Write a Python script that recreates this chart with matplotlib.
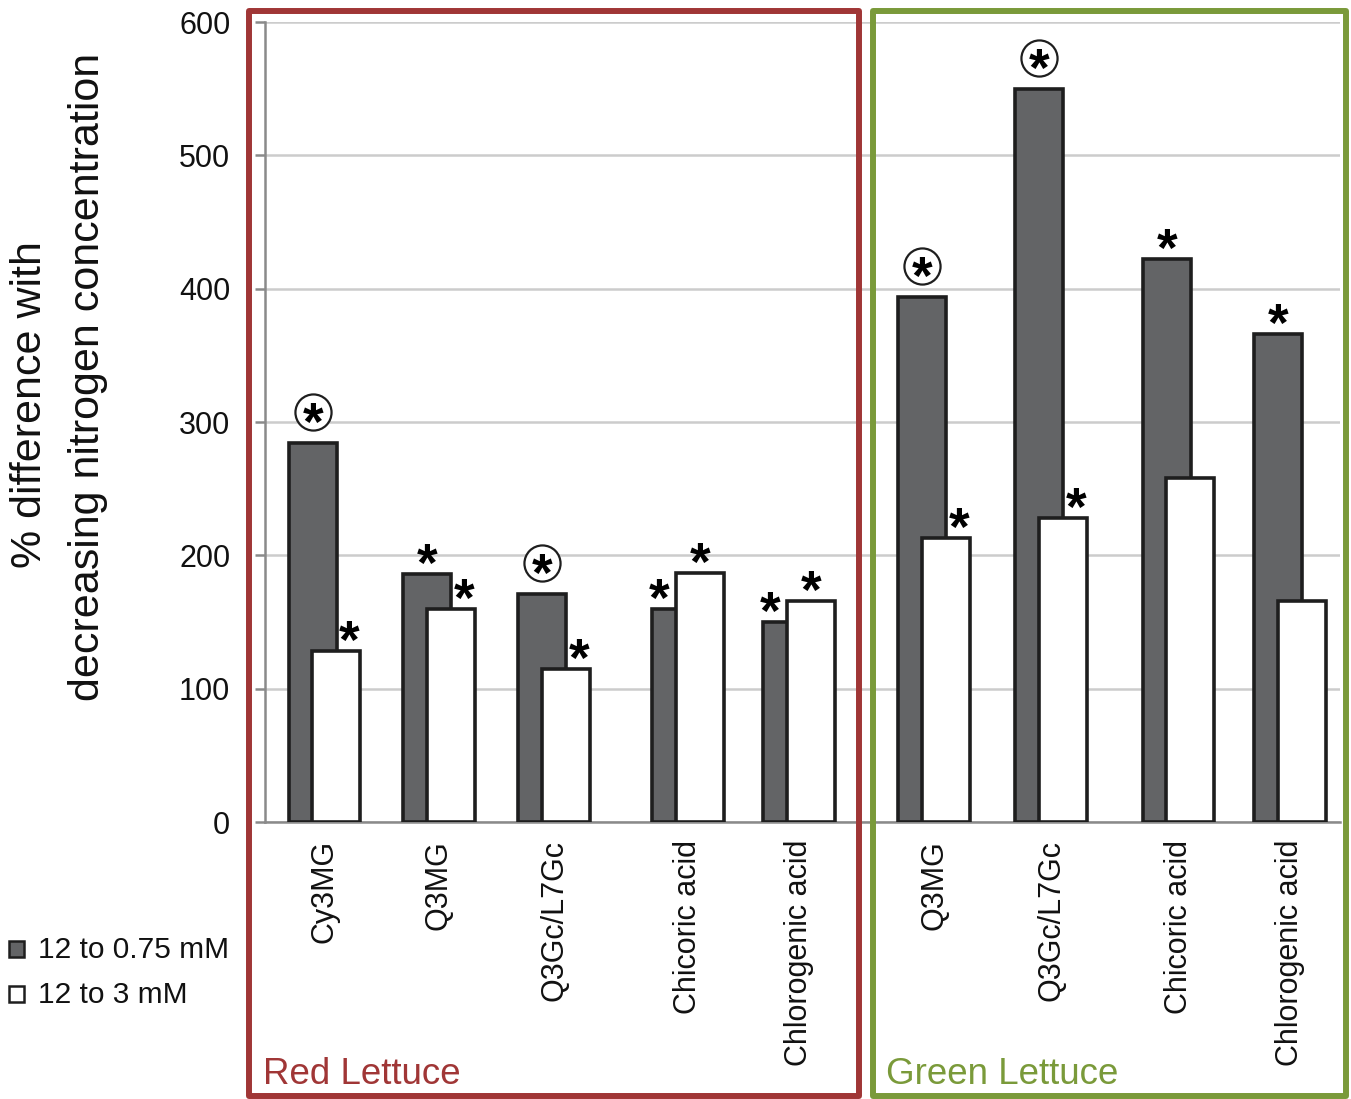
import matplotlib
matplotlib.use("Agg")
import matplotlib.pyplot as plt
from matplotlib.patches import Rectangle

plt.rcParams['font.family'] = ['Liberation Sans', 'DejaVu Sans']

# ---------------- data ----------------
categories = ["Cy3MG", "Q3MG", "Q3Gc/L7Gc", "Chicoric acid", "Chlorogenic acid",
              "Q3MG", "Q3Gc/L7Gc", "Chicoric acid", "Chlorogenic acid"]
vals_075 = [284, 186, 171, 160, 150, 394, 550, 422, 366]   # 12 to 0.75 mM
vals_3 = [128, 160, 115, 187, 166, 213, 228, 258, 166]     # 12 to 3 mM
sig_075 = ["circle", "star", "circle", "star", "star", "circle", "circle", "star", "star"]
sig_3 = ["star", "star", "star", "star", "star", "star", "star", "", ""]
yticks = [0, 100, 200, 300, 400, 500, 600]
legend_labels = ["12 to 0.75 mM", "12 to 3 mM"]
group_labels = ["Red Lettuce", "Green Lettuce"]

# ---------------- layout ----------------
W, H = 1351, 1099
group_pos = [59.5, 174, 289, 423, 534, 669, 786, 913.5, 1025]
bar_w = 48
off = 11.75
dark = "#636466"
edge = "#1e1e1e"
red = "#A03636"
green = "#7A9A3A"

fig = plt.figure(figsize=(W / 100, H / 100), dpi=100)
ax = fig.add_axes([265 / W, 1 - 822 / H, 1075 / W, 800 / H])
ax.set_xlim(0, 1075)
ax.set_ylim(0, 600)

xd = [p - off for p in group_pos]
xw = [p + off for p in group_pos]
ax.bar(xd, vals_075, width=bar_w, color=dark, edgecolor=edge, linewidth=2.6, zorder=3)
ax.bar(xw, vals_3, width=bar_w, color="white", edgecolor=edge, linewidth=2.6, zorder=4)

# grid & spines
ax.set_yticks(yticks)
ax.yaxis.grid(True, color="#CCCCCC", linewidth=1.8, zorder=0)
ax.set_axisbelow(True)
for s in ["top", "right"]:
    ax.spines[s].set_visible(False)
ax.spines["left"].set_color("#8A8A8A")
ax.spines["left"].set_linewidth(1.8)
ax.spines["bottom"].set_color("#8A8A8A")
ax.spines["bottom"].set_linewidth(1.8)
ax.tick_params(axis="y", length=7, width=1.8, color="#8A8A8A", labelsize=22, pad=18,
               labelcolor="#111111")
ax.set_xticks(group_pos)
ax.set_xticklabels(categories, rotation=90, fontsize=22, va="top", ha="center")
ax.tick_params(axis="x", length=0, pad=13, labelcolor="#111111")

# significance markers
def star(x, y, dy):
    ax.annotate("*", xy=(x, y), xytext=(0, dy), textcoords="offset points",
                ha="center", va="center", fontsize=38, fontweight="bold", zorder=6,
                annotation_clip=False)

def circled(x, y):
    ax.plot([x], [y], marker="o", markersize=26, markerfacecolor="white",
            markeredgecolor=edge, markeredgewidth=1.6, zorder=5, clip_on=False)
    star(x, y, -10)

for i in range(len(categories)):
    d, w = vals_075[i], vals_3[i]
    if sig_075[i] == "circle":
        y_c = d + 31 * 600 / 800
        circled(xd[i], y_c)
    elif sig_075[i] == "star":
        x = xd[i] if d >= w else xd[i] - 1.5 * off
        star(x, d, 5)
    if sig_3[i] == "star":
        x = xw[i] + 1.1 * off if d >= w else xw[i]
        star(x, w, 5)

# y label (two lines)
fig.text(30 / W, 1 - 405 / H, "% difference with", rotation=90, ha="center", va="center",
         fontsize=31, color="#111111")
fig.text(88 / W, 1 - 377 / H, "decreasing nitrogen concentration", rotation=90,
         ha="center", va="center", fontsize=31, color="#111111")

# group boxes
fig.add_artist(Rectangle((249 / W, 1 - 1096 / H), (859 - 249) / W, (1096 - 11) / H,
                         transform=fig.transFigure, fill=False, edgecolor=red,
                         linewidth=4.3, joinstyle="round", zorder=10))
fig.add_artist(Rectangle((872.5 / W, 1 - 1096 / H), (1346 - 872.5) / W, (1096 - 10.5) / H,
                         transform=fig.transFigure, fill=False, edgecolor=green,
                         linewidth=4.3, joinstyle="round", zorder=10))
fig.text(263 / W, 1 - 1075 / H, group_labels[0], color=red, fontsize=26.5,
         ha="left", va="center")
fig.text(886 / W, 1 - 1075 / H, group_labels[1], color=green, fontsize=26.5,
         ha="left", va="center")

# legend
for j, (lab, fc) in enumerate(zip(legend_labels, [dark, "white"])):
    yc = 949 + 45 * j
    fig.add_artist(Rectangle((9 / W, 1 - (yc + 8) / H), 15 / W, 16 / H,
                             transform=fig.transFigure, facecolor=fc, edgecolor=edge,
                             linewidth=1.8))
    fig.text(38 / W, 1 - (yc + 1) / H, lab, fontsize=21.5, ha="left", va="center",
             color="#111111")

fig.savefig("out.png", dpi=100)
